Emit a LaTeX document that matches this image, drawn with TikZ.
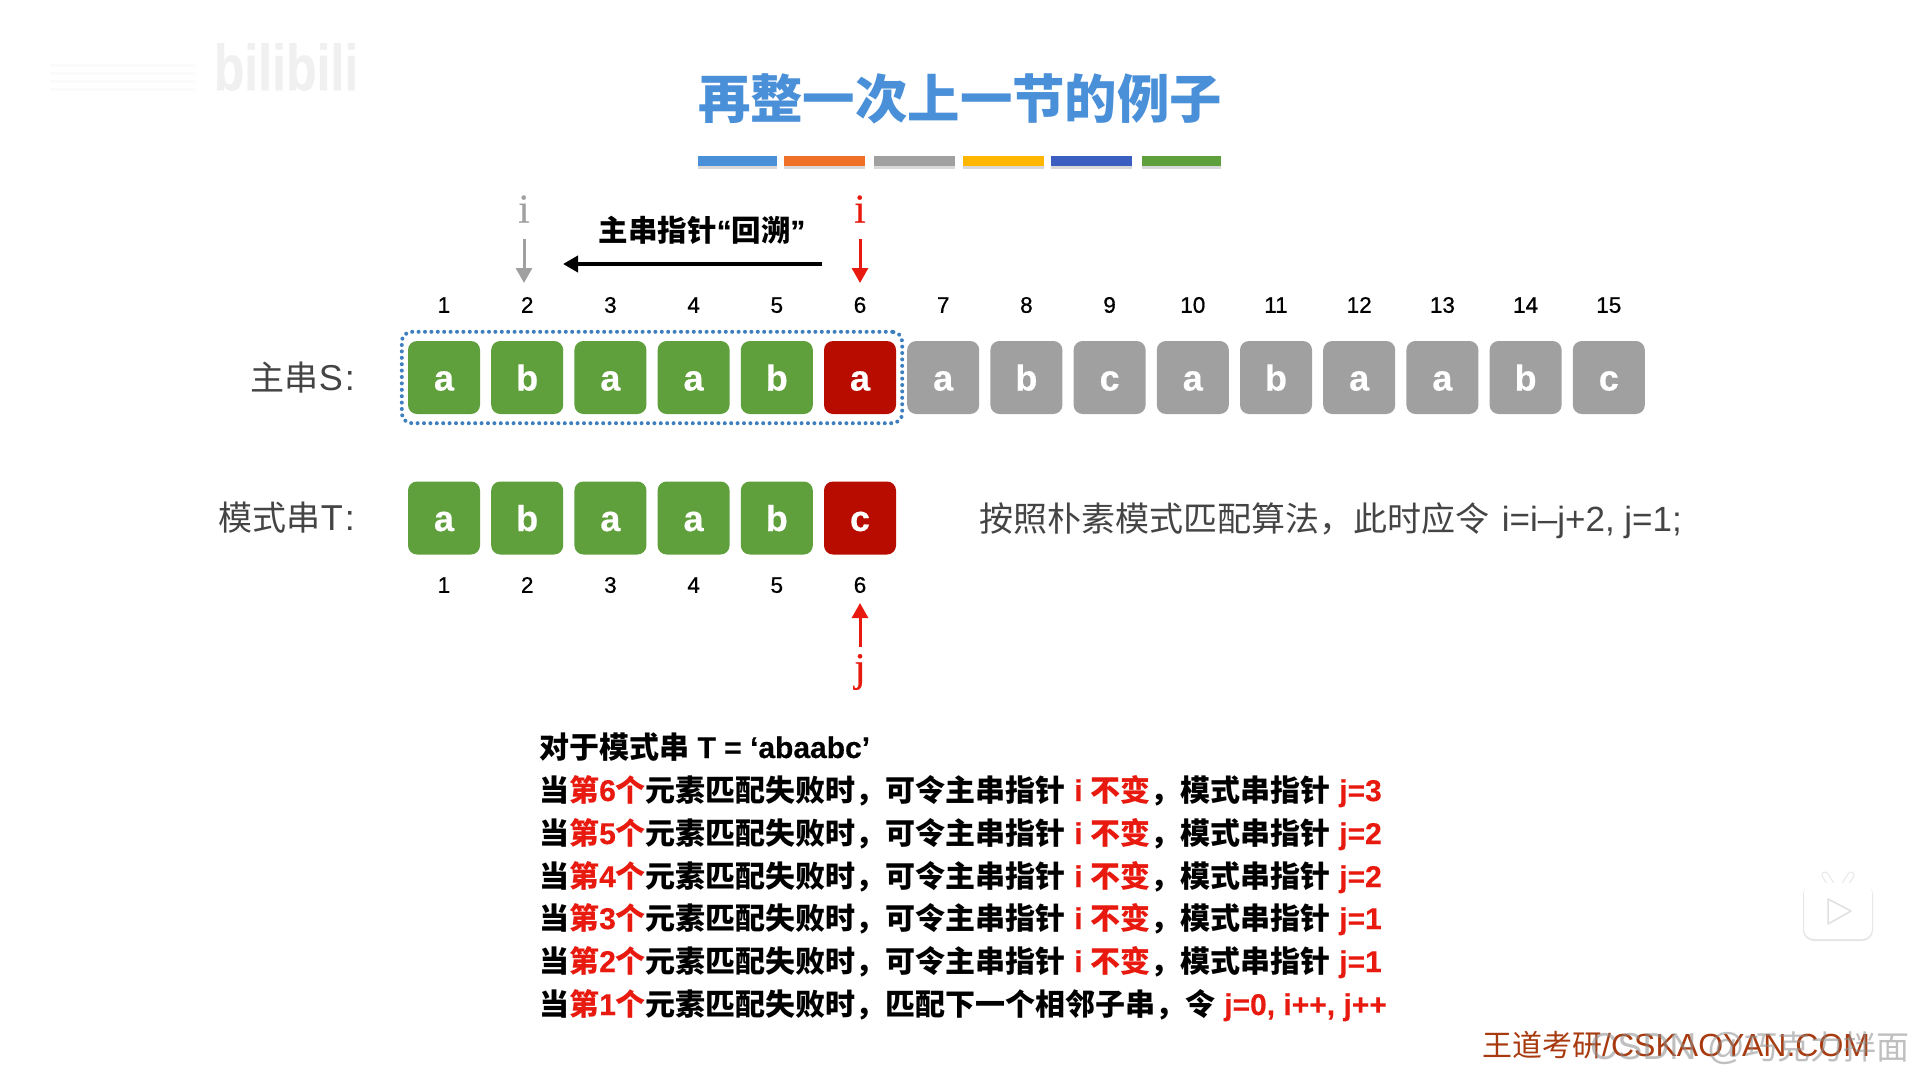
\documentclass[tikz,border=0pt]{standalone}
\usepackage{fontspec}
\setmainfont{Noto Sans CJK SC}
\newfontfamily\lat{Liberation Sans}[BoldFeatures={FakeBold=0.4}]
\newfontfamily\latmid{Liberation Sans}[FakeBold=0.7]
\newfontfamily\slab{Liberation Serif}[FakeBold=0.5]
\usepackage{xcolor}
\usetikzlibrary{arrows.meta,fit,positioning}
\definecolor{kmpblue}{RGB}{74,144,217}
\definecolor{kmporange}{RGB}{240,112,40}
\definecolor{kmpgrey}{RGB}{160,160,160}
\definecolor{kmpyellow}{RGB}{255,182,0}
\definecolor{kmpnavy}{RGB}{58,95,192}
\definecolor{kmpgreen}{RGB}{96,160,60}
\definecolor{kmpdark}{RGB}{184,12,0}
\definecolor{kmpred}{RGB}{232,25,14}
\definecolor{kmptext}{RGB}{68,68,68}
\definecolor{kmpbrown}{RGB}{168,58,16}
\definecolor{kmpdots}{RGB}{61,127,191}
\tikzset{
  tile/.style={rounded corners=9pt,minimum width=72pt,minimum height=73pt,inner sep=0pt,
    text height=26pt,text depth=0pt,text=white,font=\lat\bfseries\fontsize{36}{40}\selectfont},
  idx/.style={inner sep=0pt,text height=15.5pt,text depth=0pt,font=\latmid\fontsize{22.5}{24}\selectfont},
  rowlabel/.style={anchor=east,inner sep=0pt,text=kmptext,font=\fontsize{34}{40}\selectfont},
  ptr/.style={inner sep=0pt,font=\slab\fontsize{41}{44}\selectfont},
  rule/.style={anchor=base west,inner sep=0pt,font=\bfseries\fontsize{30}{36}\selectfont},
  ptrarrow/.style={line width=3pt,-{Triangle[length=15pt,width=16pt]}},
}
\newcommand{\hot}[1]{\textcolor{kmpred}{#1}}
\newcommand{\failrow}[2]{当\hot{第{\lat #1}个}元素匹配失败时，可令主串指针{\lat\ \hot{i} }\hot{不变}，模式串指针{\lat\ \hot{j=#2}}}
\begin{document}
\begin{tikzpicture}[x=1pt,y=-1pt]
  \useasboundingbox (0,0) rectangle (1919,1079);
  \fill[white] (0,0) rectangle (1919,1079);

  % faint marks of the video player
  \node[inner sep=0pt,text=black!6,yscale=1.3,font=\lat\bfseries\fontsize{50}{60}\selectfont] (logo) at (286,67) {bilibili};
  \foreach \y in {64,72,80,88} {
    \fill[black!1.5] (50,\y) rectangle (196,\y+3);
  }

  \node[inner sep=0pt,text=kmpblue,font=\bfseries\fontsize{52.4}{60}\selectfont] (title) at (960,99) {再整一次上一节的例子};

  \fill[black!15] (698,159) rectangle (777,169);
  \fill[black!15] (784,159) rectangle (865,169);
  \fill[black!15] (874,159) rectangle (955,169);
  \fill[black!15] (963,159) rectangle (1044,169);
  \fill[black!15] (1051,159) rectangle (1132,169);
  \fill[black!15] (1142,159) rectangle (1221,169);
  \fill[kmpblue] (698,156) rectangle (777,166);
  \fill[kmporange] (784,156) rectangle (865,166);
  \fill[kmpgrey] (874,156) rectangle (955,166);
  \fill[kmpyellow] (963,156) rectangle (1044,166);
  \fill[kmpnavy] (1051,156) rectangle (1132,166);
  \fill[kmpgreen] (1142,156) rectangle (1221,166);

  % main string
  \foreach \n/\c/\f in {1/a/kmpgreen,2/b/kmpgreen,3/a/kmpgreen,4/a/kmpgreen,5/b/kmpgreen,6/a/kmpdark,
      7/a/kmpgrey,8/b/kmpgrey,9/c/kmpgrey,10/a/kmpgrey,11/b/kmpgrey,12/a/kmpgrey,13/a/kmpgrey,14/b/kmpgrey,15/c/kmpgrey} {
    \node[tile,fill=\f] (S\n) at ({444+83.2*(\n-1)},377.5) {\c};
    \node[idx] (Sn\n) at ({444+83.2*(\n-1)},305) {\n};
  }
  % pattern string
  \foreach \n/\c/\f in {1/a/kmpgreen,2/b/kmpgreen,3/a/kmpgreen,4/a/kmpgreen,5/b/kmpgreen,6/c/kmpdark} {
    \node[tile,fill=\f] (T\n) at ({444+83.2*(\n-1)},518) {\c};
    \node[idx] (Tn\n) at ({444+83.2*(\n-1)},585) {\n};
  }
  \node[fit=(S1)(S6),inner xsep=6pt,inner ysep=9pt,rounded corners=10pt,draw=kmpdots,line width=4pt,
    line cap=round,dash pattern=on 0pt off 6.4pt] (window) {};

  \node[rowlabel] (Slabel) at (355,378) {主串{\lat\fontsize{36}{40}\selectfont S\kern2pt:}};
  \node[rowlabel] (Tlabel) at (355,518) {模式串{\lat\fontsize{36}{40}\selectfont T\kern2pt:}};
  \node[anchor=west,inner sep=0pt,text=kmptext,font=\fontsize{34}{40}\selectfont] (note) at (979,521)
    {按照朴素模式匹配算法，此时应令{\lat\fontsize{35}{40}\selectfont\kern3pt\ i=i–j+2, j=1;}};

  % pointers
  \node[ptr,text=kmpgrey] (iold) at (524,209) {i};
  \node[ptr,text=kmpred] (inew) at (860,209) {i};
  \node[ptr,text=kmpred] (jnew) at (860,672) {j};
  \coordinate (ioldtip) at (524,283);
  \coordinate (inewtip) at (860,283);
  \coordinate (jtip) at (860,603);
  \draw[ptrarrow,kmpgrey] (524,239) -- (ioldtip);
  \draw[ptrarrow,kmpred] (860,239) -- (inewtip);
  \draw[ptrarrow,kmpred] (860,647) -- (jtip);

  \node[inner sep=0pt,font=\bfseries\fontsize{29.5}{34}\selectfont] (back) at (702,230) {主串指针{\lat“}回溯{\lat”}};
  \coordinate (backfrom) at (822,264);
  \coordinate (backto) at (563,264);
  \draw[line width=4pt,-{Triangle[length=15pt,width=16pt]}] (backfrom) -- (backto);

  % rules
  \node[rule] (r0) at (539,758) {对于模式串{\lat\ T = ‘abaabc’}};
  \node[rule] (r6) at (539,801) {\failrow{6}{3}};
  \node[rule] (r5) at (539,844) {\failrow{5}{2}};
  \node[rule] (r4) at (539,887) {\failrow{4}{2}};
  \node[rule] (r3) at (539,929) {\failrow{3}{1}};
  \node[rule] (r2) at (539,972) {\failrow{2}{1}};
  \node[rule] (r1) at (539,1015) {当\hot{第{\lat 1}个}元素匹配失败时，匹配下一个相邻子串，令{\lat\ \hot{j=0, i++, j++}}};

  \node[anchor=base west,inner sep=0pt,text=kmpbrown,font=\fontsize{30}{36}\selectfont] (site) at (1482,1056) {王道考研{\lat\fontsize{32}{36}\selectfont /CSKAOYAN.COM}};
  \node[anchor=base west,inner sep=0pt,text=black!45,opacity=.55,font=\fontsize{33}{36}\selectfont] (csdn) at (1590,1059) {{\lat\fontsize{37.5}{40}\selectfont CSDN @}巧克力拌面};

  % play badge
  \draw[black!10,line width=7pt,line cap=round] (1832,886) -- (1825,875);
  \draw[black!10,line width=7pt,line cap=round] (1844,886) -- (1851,875);
  \fill[black!10,rounded corners=11pt] (1803,884) rectangle (1873,941);
  \draw[white,line width=5pt,line cap=round] (1832,886) -- (1825,875);
  \draw[white,line width=5pt,line cap=round] (1844,886) -- (1851,875);
  \fill[white,rounded corners=10pt] (1804,883) rectangle (1872,939);
  \draw[black!12,fill=white,line width=1.5pt,line join=round] (1828,899) -- (1851,911) -- (1828,924) -- cycle;
\end{tikzpicture}
\end{document}
